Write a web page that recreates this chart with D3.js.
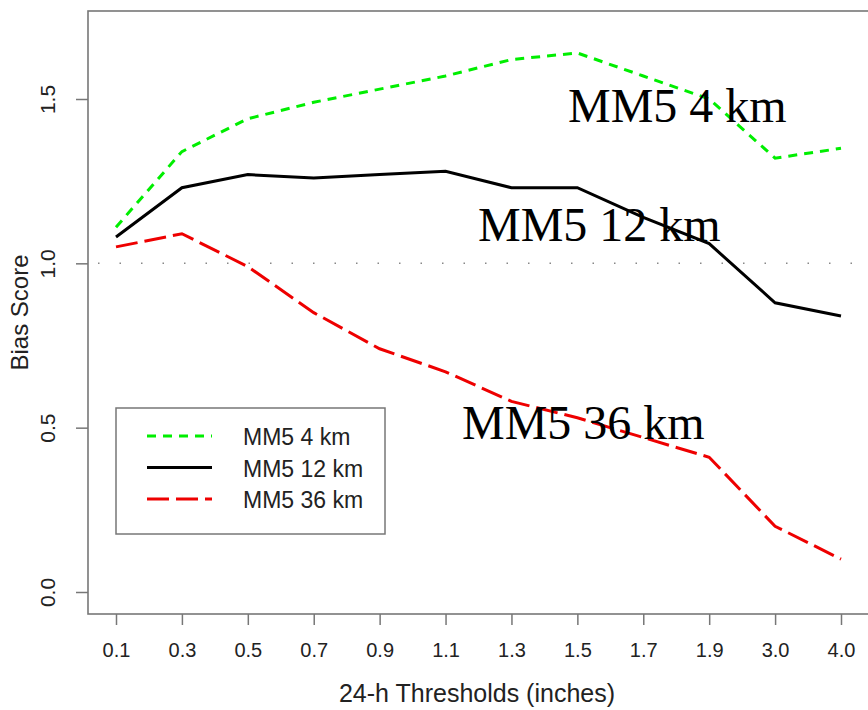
<!DOCTYPE html>
<html>
<head>
<meta charset="utf-8">
<script src="https://cdn.jsdelivr.net/npm/d3@7"></script>
<style>
  body { margin: 0; background: #fff; }
  svg { display: block; }
</style>
</head>
<body>
<div id="chart"></div>
<script>
// thresholds (categorical x axis)
const thresholds = ["0.1", "0.3", "0.5", "0.7", "0.9", "1.1", "1.3", "1.5", "1.7", "1.9", "3.0", "4.0"];

// bias scores
const mm5_4km  = [1.11, 1.34, 1.44, 1.49, 1.53, 1.57, 1.62, 1.64, 1.57, 1.50, 1.32, 1.35];
const mm5_12km = [1.08, 1.23, 1.27, 1.26, 1.27, 1.28, 1.23, 1.23, 1.14, 1.06, 0.88, 0.84];
const mm5_36km = [1.05, 1.09, 0.99, 0.85, 0.74, 0.67, 0.58, 0.53, 0.47, 0.41, 0.20, 0.10];

const yTicks = [0.0, 0.5, 1.0, 1.5];

const seriesNames = ["MM5 4 km", "MM5 12 km", "MM5 36 km"];

// annotation anchor (x in pixels, y in data units)
const series = [
  { name: seriesNames[0], values: mm5_4km,  color: "#00ee00", dash: "9,7",  annX: 568, annY: 1.43 },
  { name: seriesNames[1], values: mm5_12km, color: "#000000", dash: null,   annX: 478, annY: 1.068 },
  { name: seriesNames[2], values: mm5_36km, color: "#ee0000", dash: "22,7", annX: 462, annY: 0.465 }
];

const width = 868, height = 710;
const box = { left: 88, top: 11, right: 880, bottom: 614 };

const svg = d3.select("#chart").append("svg")
  .attr("width", width)
  .attr("height", height);

const x = d3.scalePoint().domain(thresholds).range([116, 841]);
const y = d3.scaleLinear().domain([0, 1.5]).range([592, 99]);

const axisColor = "#777";
const font = "Liberation Sans, Arial, sans-serif";

// ==== PLOT BOX ====
svg.append("rect")
  .attr("x", box.left)
  .attr("y", box.top)
  .attr("width", box.right - box.left)
  .attr("height", box.bottom - box.top)
  .attr("fill", "none")
  .attr("stroke", axisColor)
  .attr("stroke-width", 1.6);

// reference line at 1.0
svg.append("line")
  .attr("x1", box.left + 10)
  .attr("x2", width)
  .attr("y1", y(1))
  .attr("y2", y(1))
  .attr("stroke", "#888")
  .attr("stroke-width", 1.5)
  .attr("stroke-dasharray", "1.5,20");

// ==== AXES ====
const xAxis = svg.append("g")
  .attr("transform", `translate(0,${box.bottom})`)
  .call(d3.axisBottom(x).tickSize(11).tickPadding(18));
xAxis.select(".domain").remove();
xAxis.selectAll("line").attr("stroke", axisColor).attr("stroke-width", 1.5);
xAxis.selectAll("text")
  .attr("fill", "#222")
  .style("font-family", font)
  .style("font-size", "20px");

const yAxis = svg.append("g")
  .attr("transform", `translate(${box.left},0)`)
  .call(d3.axisLeft(y).tickValues(yTicks).tickFormat(d3.format(".1f")).tickSize(12).tickPadding(0));
yAxis.select(".domain").remove();
yAxis.selectAll("line").attr("stroke", axisColor).attr("stroke-width", 1.5);
yAxis.selectAll("text")
  .attr("x", 0)
  .attr("dy", 0)
  .attr("text-anchor", "middle")
  .attr("transform", "translate(-33,0) rotate(-90)")
  .attr("fill", "#222")
  .style("font-family", font)
  .style("font-size", "21px");

// axis titles
svg.append("text")
  .attr("x", 477)
  .attr("y", 702)
  .attr("text-anchor", "middle")
  .attr("fill", "#222")
  .style("font-family", font)
  .style("font-size", "25px")
  .text("24-h Thresholds (inches)");

svg.append("text")
  .attr("transform", `translate(28,${(box.top + box.bottom) / 2}) rotate(-90)`)
  .attr("text-anchor", "middle")
  .attr("fill", "#222")
  .style("font-family", font)
  .style("font-size", "24px")
  .text("Bias Score");

// ==== LINES ====
const line = d3.line()
  .x((d, i) => x(thresholds[i]))
  .y((d) => y(d));

svg.selectAll(".series")
  .data(series)
  .enter()
  .append("path")
  .attr("class", "series")
  .attr("d", (d) => line(d.values))
  .attr("fill", "none")
  .attr("stroke", (d) => d.color)
  .attr("stroke-width", 3)
  .attr("stroke-dasharray", (d) => d.dash);

// ==== ANNOTATIONS ====
svg.selectAll(".ann")
  .data(series)
  .enter()
  .append("text")
  .attr("class", "ann")
  .attr("x", (d) => d.annX)
  .attr("y", (d) => y(d.annY))
  .attr("fill", "#000")
  .style("font-family", "Liberation Serif, Times New Roman, serif")
  .style("font-size", "48px")
  .text((d) => d.name);

// ==== LEGEND ====
const legend = svg.append("g").attr("transform", "translate(116,408)");

legend.append("rect")
  .attr("width", 269)
  .attr("height", 126)
  .attr("fill", "#fff")
  .attr("stroke", axisColor)
  .attr("stroke-width", 1.5);

const rowY = d3.scalePoint().domain(seriesNames).range([28, 91]);

legend.selectAll(".legLine")
  .data(series)
  .enter()
  .append("line")
  .attr("x1", 31)
  .attr("x2", 96)
  .attr("y1", (d) => rowY(d.name))
  .attr("y2", (d) => rowY(d.name))
  .attr("stroke", (d) => d.color)
  .attr("stroke-width", 3)
  .attr("stroke-dasharray", (d) => d.dash);

legend.selectAll(".legText")
  .data(series)
  .enter()
  .append("text")
  .attr("x", 127)
  .attr("y", (d) => rowY(d.name) + 9)
  .attr("fill", "#222")
  .style("font-family", font)
  .style("font-size", "23px")
  .text((d) => d.name);
</script>
</body>
</html>
